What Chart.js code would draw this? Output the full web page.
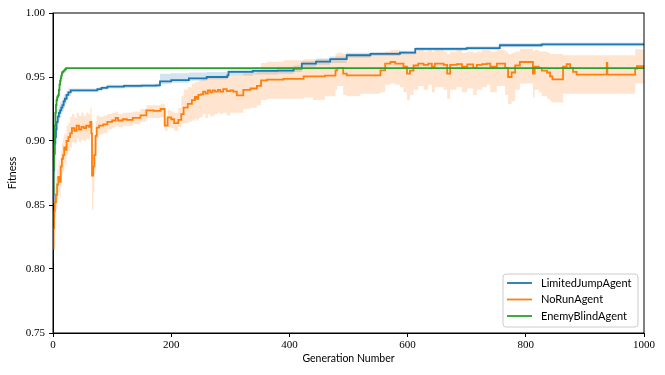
<!DOCTYPE html>
<html>
<head>
<meta charset="utf-8">
<script src="https://cdn.jsdelivr.net/npm/chart.js@4.4.1/dist/chart.umd.min.js"></script>
<style>
html,body{margin:0;padding:0;background:#fff;}
#wrap{width:665px;height:375px;position:relative;}
</style>
</head>
<body>
<div id="wrap"><canvas id="c" width="665" height="375"></canvas></div>
<script>
// ---------- DATA ----------
const seriesNames = ["LimitedJumpAgent", "NoRunAgent", "EnemyBlindAgent"];
const xTicks = [0, 200, 400, 600, 800, 1000];
const yTicks = [0.75, 0.80, 0.85, 0.90, 0.95, 1.00];

const blueGen = [0,1,2,3,4,5,6,8,10,12,14,16,18,20,23,26,30,75,82,92,120,150,175,181,200,230,260,295,297,338,380,407,421,445,469,497,537,587,613,700,756,827,1000];
const blueFit = [0.852,0.877,0.89,0.898,0.903,0.909,0.915,0.919,0.922,0.924,0.926,0.928,0.931,0.933,0.936,0.938,0.9395,0.9405,0.9415,0.9425,0.943,0.9432,0.9435,0.9466,0.9475,0.949,0.950,0.9513,0.954,0.9548,0.955,0.9566,0.9605,0.962,0.964,0.967,0.968,0.969,0.972,0.9725,0.9748,0.9755,0.9755];
const blueLo  = [0.848,0.871,0.884,0.892,0.897,0.903,0.909,0.913,0.916,0.918,0.921,0.923,0.926,0.929,0.933,0.935,0.938,0.939,0.940,0.941,0.9415,0.9417,0.942,0.9445,0.9455,0.947,0.948,0.949,0.951,0.952,0.9525,0.954,0.958,0.9595,0.961,0.965,0.9665,0.9675,0.9705,0.971,0.9733,0.974,0.974];
const blueHi  = [0.856,0.883,0.896,0.904,0.909,0.915,0.921,0.925,0.928,0.930,0.931,0.933,0.936,0.937,0.939,0.941,0.941,0.942,0.943,0.944,0.9445,0.9447,0.945,0.9525,0.953,0.9535,0.954,0.9545,0.957,0.9575,0.958,0.959,0.9625,0.9645,0.966,0.969,0.9695,0.9705,0.9735,0.974,0.9763,0.977,0.977];

const orangeGen = [0,1,2,3,5,7,9,11,13,15,17,19,21,23,26,29,32,36,40,44,48,52,56,60,63,65,66,68,70,72,74,78,85,92,100,106,110,118,125,135,148,158,170,182,189,194,200,205,212,217,221,228,
  235,240,243,246,250,254,258,262,266,270,274,279,283,288,294,300,305,311,322,334,345,
  352,362,390,424,440,460,478,481,491,497,520,554,562,571,579,587,593,599,604,610,618,627,635,641,646,661,667,672,683,692,701,711,717,726,734,740,751,765,770,776,782,790,807,812,815,822,827,836,841,845,863,869,875,880,886,937,938,985,988,1000];
const orangeFit = [0.816,0.832,0.845,0.852,0.858,0.866,0.872,0.868,0.880,0.886,0.889,0.895,0.893,0.900,0.903,0.906,0.910,0.908,0.912,0.909,0.911,0.910,0.912,0.911,0.915,0.906,0.873,0.880,0.889,0.904,0.9105,0.912,0.913,0.915,0.916,0.918,0.916,0.917,0.9165,0.918,0.920,0.924,0.9235,0.925,0.912,0.9185,0.917,0.914,0.9165,0.921,0.926,0.929,
  0.932,0.9345,0.933,0.936,0.9365,0.9385,0.937,0.9395,0.938,0.9395,0.9385,0.940,0.9385,0.9405,0.939,0.9395,0.9385,0.9357,0.940,0.941,0.943,
  0.9474,0.948,0.9485,0.9505,0.9505,0.951,0.9552,0.957,0.9526,0.9513,0.9513,0.9552,0.9605,0.9617,0.9605,0.9605,0.958,0.9526,0.955,0.959,0.9605,0.9595,0.9605,0.958,0.9605,0.9595,0.9526,0.9595,0.960,0.958,0.9598,0.957,0.9595,0.960,0.9605,0.958,0.9605,0.957,0.950,0.9535,0.959,0.9617,0.9617,0.9526,0.958,0.957,0.955,0.9535,0.9505,0.9482,0.958,0.960,0.957,0.954,0.9519,0.961,0.9519,0.9566,0.9584,0.9584];
const orangeLo = [0.806,0.820,0.832,0.840,0.846,0.853,0.860,0.856,0.868,0.874,0.877,0.883,0.881,0.889,0.892,0.895,0.899,0.898,0.902,0.899,0.901,0.900,0.902,0.901,0.905,0.893,0.846,0.860,0.874,0.894,0.902,0.905,0.906,0.909,0.911,0.912,0.911,0.912,0.912,0.913,0.915,0.918,0.918,0.919,0.908,0.911,0.910,0.908,0.911,0.913,0.914,0.915,
  0.916,0.917,0.916,0.918,0.919,0.921,0.918,0.921,0.919,0.920,0.921,0.922,0.921,0.922,0.920,0.922,0.922,0.922,0.925,0.926,0.928,
  0.932,0.933,0.933,0.934,0.932,0.935,0.940,0.943,0.936,0.935,0.937,0.938,0.944,0.945,0.944,0.942,0.938,0.932,0.936,0.940,0.943,0.940,0.944,0.938,0.942,0.940,0.933,0.940,0.942,0.938,0.941,0.936,0.940,0.942,0.944,0.938,0.943,0.936,0.929,0.931,0.940,0.945,0.945,0.934,0.940,0.938,0.935,0.933,0.931,0.930,0.937,0.937,0.937,0.937,0.937,0.937,0.937,0.945,0.945,0.945];
const orangeHi = [0.826,0.845,0.857,0.864,0.872,0.878,0.885,0.882,0.892,0.898,0.902,0.906,0.905,0.912,0.914,0.919,0.921,0.918,0.922,0.920,0.922,0.920,0.922,0.921,0.926,0.918,0.893,0.898,0.904,0.915,0.920,0.919,0.920,0.921,0.922,0.923,0.921,0.922,0.922,0.923,0.925,0.928,0.928,0.929,0.918,0.924,0.923,0.922,0.926,0.935,0.940,0.942,
  0.945,0.946,0.946,0.947,0.948,0.949,0.949,0.950,0.949,0.950,0.950,0.951,0.951,0.951,0.950,0.951,0.951,0.951,0.953,0.953,0.955,
  0.961,0.962,0.963,0.964,0.964,0.964,0.968,0.969,0.968,0.968,0.968,0.969,0.970,0.971,0.971,0.970,0.970,0.968,0.969,0.970,0.971,0.970,0.971,0.970,0.971,0.970,0.968,0.970,0.971,0.969,0.970,0.969,0.970,0.971,0.971,0.970,0.971,0.970,0.968,0.969,0.970,0.972,0.972,0.970,0.971,0.970,0.970,0.969,0.968,0.968,0.967,0.967,0.967,0.967,0.967,0.967,0.967,0.9716,0.9716,0.9716];

const greenGen = [0,1,2,3,4,5,6,7,8,9,10,11,12,13,14,15,16,18,20,22,1000];
const greenFit = [0.858,0.88,0.898,0.912,0.922,0.928,0.932,0.934,0.935,0.936,0.94,0.944,0.947,0.949,0.951,0.953,0.954,0.955,0.956,0.957,0.957];

// ---------- STYLE ----------
const C_BLUE = '#1f77b4', C_ORANGE = '#ff7f0e', C_GREEN = '#2ca02c';
const pts = (g, v) => g.map((x, i) => ({x: x, y: v[i]}));

function band(data, fillTo, color, order) {
  return {data, stepped: true, pointRadius: 0, borderWidth: 0, borderColor: 'rgba(0,0,0,0)',
    backgroundColor: color, fill: fillTo, order};
}
function line(label, data, color, order) {
  return {label, data, stepped: true, pointRadius: 0, borderWidth: 1.8, borderColor: color,
    backgroundColor: color, fill: false, order, borderJoinStyle: 'miter'};
}

const datasets = [
  band(pts(blueGen, blueLo), false, 'rgba(0,0,0,0)', 6),
  band(pts(blueGen, blueHi), 0, 'rgba(31,119,180,0.2)', 5),
  band(pts(orangeGen, orangeLo), false, 'rgba(0,0,0,0)', 4),
  band(pts(orangeGen, orangeHi), 2, 'rgba(255,127,14,0.2)', 3),
  line(seriesNames[0], pts(blueGen, blueFit), C_BLUE, 2),
  line(seriesNames[1], pts(orangeGen, orangeFit), C_ORANGE, 1),
  line(seriesNames[2], pts(greenGen, greenFit), C_GREEN, 0)
];

const tickFont = {family: "'Liberation Serif', serif", size: 11};
const labelFont = "10.5px Lato, 'DejaVu Sans', sans-serif";
const legendFont = "11px Lato, 'DejaVu Sans', sans-serif";

const decor = {
  id: 'decor',
  afterDraw(chart) {
    const ctx = chart.ctx, a = chart.chartArea;
    ctx.save();
    ctx.strokeStyle = '#000'; ctx.lineWidth = 1;
    ctx.strokeRect(a.left, a.top, a.right - a.left, a.bottom - a.top);
    ctx.fillStyle = '#000';
    ctx.font = labelFont;
    ctx.textAlign = 'center'; ctx.textBaseline = 'middle';
    ctx.fillText('Generation Number', (a.left + a.right) / 2, 359);
    ctx.save();
    ctx.translate(13, (a.top + a.bottom) / 2);
    ctx.rotate(-Math.PI / 2);
    ctx.fillText('Fitness', 0, 0);
    ctx.restore();
    const bx = 503, by = 274, bw = 135, bh = 53, r = 3;
    ctx.beginPath();
    ctx.moveTo(bx + r, by);
    ctx.arcTo(bx + bw, by, bx + bw, by + bh, r);
    ctx.arcTo(bx + bw, by + bh, bx, by + bh, r);
    ctx.arcTo(bx, by + bh, bx, by, r);
    ctx.arcTo(bx, by, bx + bw, by, r);
    ctx.closePath();
    ctx.fillStyle = 'rgba(255,255,255,0.8)';
    ctx.fill();
    ctx.strokeStyle = '#cccccc'; ctx.lineWidth = 1;
    ctx.stroke();
    const cols = [C_BLUE, C_ORANGE, C_GREEN];
    const ys = [283, 299.5, 316];
    ctx.textAlign = 'left'; ctx.textBaseline = 'middle';
    ctx.font = legendFont;
    for (let i = 0; i < 3; i++) {
      ctx.strokeStyle = cols[i]; ctx.lineWidth = 1.8;
      ctx.beginPath(); ctx.moveTo(507, ys[i]); ctx.lineTo(532, ys[i]); ctx.stroke();
      ctx.fillStyle = '#000';
      ctx.fillText(seriesNames[i], 541, ys[i]);
    }
    ctx.restore();
  }
};

new Chart(document.getElementById('c'), {
  type: 'line',
  data: {datasets},
  options: {
    responsive: false,
    animation: false,
    events: [],
    layout: {padding: {left: 0, right: 21, top: 13, bottom: 0}},
    plugins: {legend: {display: false}, tooltip: {enabled: false}, filler: {propagate: false}},
    scales: {
      x: {
        type: 'linear', min: 0, max: 1000,
        afterFit: s => { s.height = 42; },
        afterBuildTicks: s => { s.ticks = xTicks.map(v => ({value: v})); },
        grid: {drawOnChartArea: false, drawTicks: true, tickLength: 4, color: '#000'},
        border: {display: true, color: '#000', width: 1},
        ticks: {font: tickFont, color: '#000', padding: 2, maxRotation: 0,
          callback: v => String(v)}
      },
      y: {
        type: 'linear', min: 0.75, max: 1.00,
        afterFit: s => { s.width = 53; },
        afterBuildTicks: s => { s.ticks = yTicks.map(v => ({value: v})); },
        grid: {drawOnChartArea: false, drawTicks: true, tickLength: 4, color: '#000'},
        border: {display: true, color: '#000', width: 1},
        ticks: {font: tickFont, color: '#000', padding: 4,
          callback: v => Number(v).toFixed(2)}
      }
    }
  },
  plugins: [decor]
});
</script>
</body>
</html>
